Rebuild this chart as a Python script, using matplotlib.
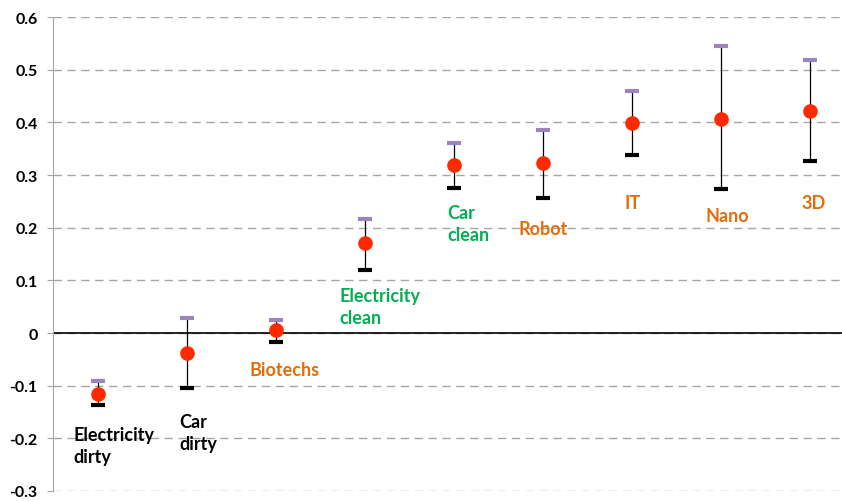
import matplotlib
matplotlib.use("Agg")
import matplotlib.pyplot as plt

categories = ["Electricity\ndirty", "Car\ndirty", "Biotechs", "Electricity\nclean",
              "Car\nclean", "Robot", "IT", "Nano", "3D"]
means = [-0.116, -0.038, 0.006, 0.171, 0.319, 0.323, 0.398, 0.406, 0.421]
upper = [-0.091, 0.028, 0.025, 0.216, 0.360, 0.385, 0.459, 0.545, 0.518]
lower = [-0.137, -0.104, -0.017, 0.120, 0.275, 0.256, 0.338, 0.273, 0.326]
label_colors = ["black", "black", "#E46C0A", "#00B050", "#00B050",
                "#E46C0A", "#E46C0A", "#E46C0A", "#E46C0A"]
yticks = [-0.3, -0.2, -0.1, 0, 0.1, 0.2, 0.3, 0.4, 0.5, 0.6]
ytick_labels = ["-0.3", "-0.2", "-0.1", "0", "0.1", "0.2", "0.3", "0.4", "0.5", "0.6"]

# label placement (style): x offset from category, top y in data units
label_dx = [-0.27, -0.08, -0.29, -0.28, -0.07, -0.27, -0.08, -0.17, -0.09]
label_y = [-0.176, -0.152, -0.053, 0.087, 0.245, 0.215, 0.264, 0.239, 0.264]

plt.rcParams['font.family'] = ['Lato', 'DejaVu Sans']

fig = plt.figure(figsize=(8.42, 5.02), dpi=100)
ax = fig.add_axes([53/842, 10/502, 801/842, 474/502])

x = list(range(len(categories)))
ax.vlines(x, lower, upper, color="black", lw=0.9, zorder=3)
ax.plot(x, upper, ls="none", marker="_", ms=9.5, mew=3, color="#9A86BC", zorder=4)
ax.plot(x, lower, ls="none", marker="_", ms=9.5, mew=3, color="black", zorder=4)
ax.plot(x, means, ls="none", marker="o", ms=9.5, color="#FF2A00", mec="#FF2A00", zorder=5)

for i, (lab, c) in enumerate(zip(categories, label_colors)):
    ax.text(i + label_dx[i], label_y[i], lab, color=c, fontsize=13, fontweight="bold",
            ha="left", va="top", linespacing=1.35)

ax.set_xlim(-0.5, 8.5)
ax.set_ylim(-0.3, 0.6)
ax.set_yticks(yticks)
ax.set_yticklabels(ytick_labels, fontsize=11.5, fontweight="bold")
ax.set_xticks([])
ax.yaxis.grid(True, ls=(0, (6, 4)), color="#A6A6A6", lw=1)
ax.set_axisbelow(True)
ax.axhline(0, color="black", lw=1.2, zorder=2)
for s in ["top", "right", "bottom"]:
    ax.spines[s].set_visible(False)
ax.spines["left"].set_color("#A6A6A6")
ax.tick_params(axis="y", length=4, color="#A6A6A6", pad=7)

fig.savefig("out.png", dpi=100)
